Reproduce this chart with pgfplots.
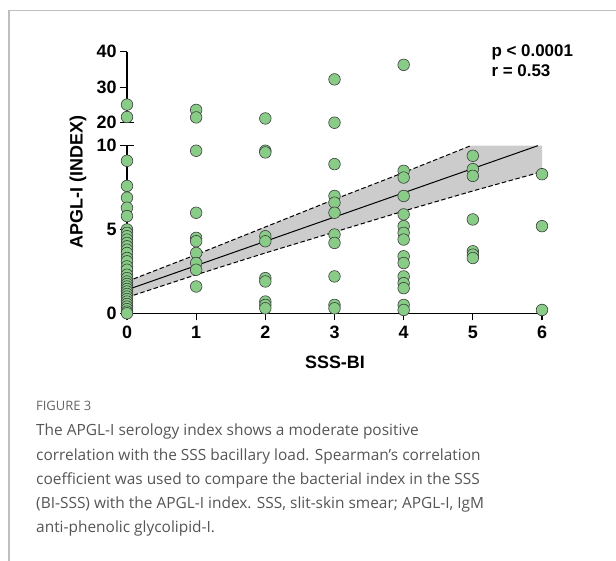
\documentclass[border=0pt]{standalone}
\usepackage{fontspec}
\setmainfont{Liberation Sans}
\newfontfamily\capfont{Open Sans}
\usepackage{pgfplots}
\pgfplotsset{compat=1.18}

\definecolor{ptfill}{RGB}{136,204,136}
\definecolor{ptdraw}{RGB}{60,60,60}
\definecolor{band}{RGB}{204,204,204}
\definecolor{capgray}{RGB}{85,85,85}
\definecolor{figgray}{RGB}{100,100,100}
\definecolor{framegray}{RGB}{190,190,190}

\pgfplotsset{
  brk/.style={
    scale only axis, width=415bp, xmin=0, xmax=6, clip=false,
    axis line style={line width=1.2bp, black},
    every tick/.style={line width=1.2bp, black},
    major tick length=7bp, tick align=outside,
    /pgf/number format/assume math mode=true,
    ticklabel style={font=\fontsize{18}{18}\selectfont\bfseries},
  },
  pts/.style={only marks, mark=*, mark size=5.8bp,
    mark options={fill=ptfill, draw=ptdraw, line width=0.6bp}},
  ci/.style={black, line width=1bp, dash pattern=on 4.5bp off 2.5bp},
}

\begin{document}
\begin{tikzpicture}
\useasboundingbox (0,0) rectangle (616bp,-561bp);
\draw[line width=1.3bp, framegray] (616bp,-10.5bp) -- (9bp,-10.5bp) -- (9bp,-561bp);

% lower segment 0-10
\begin{axis}[brk, at={(127bp,-313.3bp)}, anchor=south west, height=167.6bp,
  ymin=0, ymax=10, axis lines*=left,
  xtick={0,1,2,3,4,5,6}, ytick={0,5,10},
  xticklabel style={yshift=-2bp}]
\addplot[fill=band, draw=none] coordinates {(0,1.9) (1,3.5) (2,5.15) (3,6.8) (4,8.4) (4.97,10) (6,10)
  (6,8.45) (5,7.3) (4,6.1) (3,4.85) (2,3.6) (1,2.3) (0,0.95)} -- cycle;
\addplot[ci] coordinates {(0,1.9) (1,3.5) (2,5.15) (3,6.8) (4,8.4) (4.97,10)};
\addplot[ci] coordinates {(0,0.95) (1,2.3) (2,3.6) (3,4.85) (4,6.1) (5,7.3) (6,8.45)};
\addplot[black, line width=1bp] coordinates {(0,1.4) (5.94,10)};
\addplot[pts] coordinates {
  (0,9.1) (0,7.6) (0,6.9) (0,6.3) (0,5.8) (0,5.0) (0,4.8) (0,4.6) (0,4.4) (0,4.2) (0,4.0)
  (0,3.8) (0,3.6) (0,3.3) (0,3.1) (0,2.8) (0,2.6) (0,2.3) (0,2.1) (0,1.9) (0,1.75) (0,1.6)
  (0,1.45) (0,1.3) (0,1.15) (0,1.0) (0,0.85) (0,0.7) (0,0.55) (0,0.4) (0,0.25) (0,0.1) (0,0.0)
  (1,9.7) (1,6.0) (1,4.5) (1,4.3) (1,3.6) (1,3.0) (1,2.6) (1,1.6)
  (2,9.7) (2,9.6) (2,4.6) (2,4.3) (2,2.1) (2,1.9) (2,0.7) (2,0.5) (2,0.3)
  (3,8.9) (3,7.0) (3,6.6) (3,6.0) (3,4.7) (3,4.2) (3,2.2) (3,0.5) (3,0.3)
  (4,8.5) (4,8.1) (4,7.0) (4,5.9) (4,5.2) (4,4.8) (4,4.4) (4,3.4) (4,3.0) (4,2.2) (4,1.8)
  (4,1.5) (4,0.5) (4,0.2)
  (5,9.4) (5,8.6) (5,8.2) (5,5.6) (5,3.7) (5,3.5) (5,3.3)
  (6,8.3) (6,5.2) (6,0.2)
};
\draw[line width=1.2bp] (axis cs:0,10) ++(-7bp,0bp) -- ++(14bp,0bp);
\end{axis}

% upper segment 20-40
\begin{axis}[brk, at={(127bp,-122.7bp)}, anchor=south west, height=71bp,
  ymin=20, ymax=40, axis y line*=left, axis x line=none,
  ytick={20,30,40}]
\addplot[pts] coordinates {
  (0,25.1) (0,21.6) (1,23.6) (1,21.5) (2,21.2) (3,32.2) (3,20.0) (4,36.3)
};
\draw[line width=1.2bp] (axis cs:0,20) ++(-7bp,0bp) -- ++(14bp,0bp);
\end{axis}

\node[rotate=90, font=\fontsize{18}{18}\selectfont\bfseries] at (78bp,-182bp) {APGL-I (INDEX)};
\node[font=\fontsize{18}{18}\selectfont\bfseries] at (335bp,-362bp) {SSS-BI};
\node[anchor=base west, font=\fontsize{17}{17}\selectfont\bfseries] at (488bp,-56bp) {p < 0.0001};
\node[anchor=base west, font=\fontsize{17}{17}\selectfont\bfseries] at (488bp,-76.5bp) {r = 0.53};

\begin{scope}[every node/.style={anchor=base west, inner sep=0pt, text=capgray,
    font=\capfont\fontsize{15.5}{15.5}\selectfont}]
\node[text=figgray, font=\capfont\fontsize{13}{13}\selectfont] at (36bp,-410bp) {FIGURE 3};
\node at (36bp,-435bp) {The APGL-I serology index shows a moderate positive};
\node at (36bp,-460bp) {correlation with the SSS bacillary load. Spearman’s correlation};
\node at (36bp,-484bp) {coefficient was used to compare the bacterial index in the SSS};
\node at (36bp,-508bp) {(BI-SSS) with the APGL-I index. SSS, slit-skin smear; APGL-I, IgM};
\node at (36bp,-532bp) {anti-phenolic glycolipid-I.};
\end{scope}
\end{tikzpicture}
\end{document}
